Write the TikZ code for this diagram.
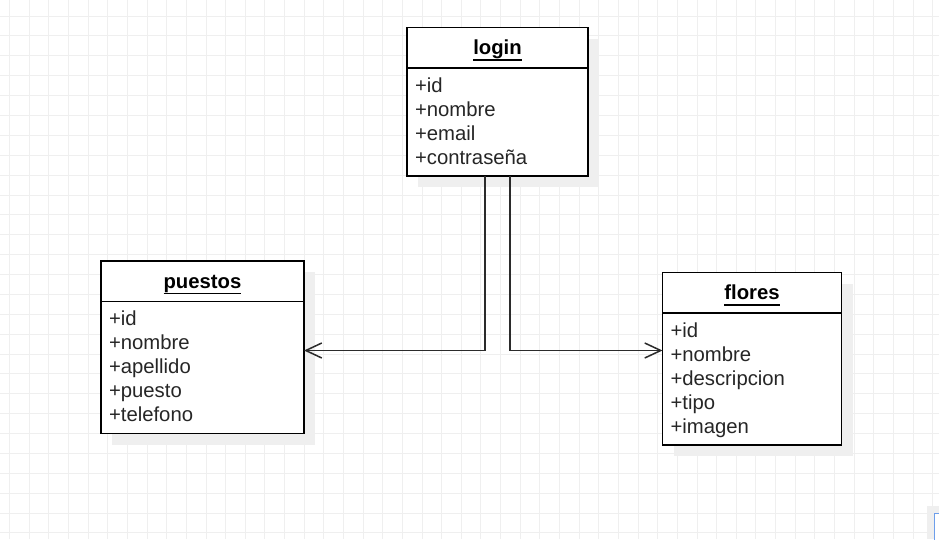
\documentclass[tikz,border=0pt]{standalone}
\usepackage{fontspec}
\setmainfont{Liberation Sans}
\usetikzlibrary{arrows.meta, positioning, shadows}
\definecolor{gridgray}{HTML}{EFEFEF}
\definecolor{shadowgray}{HTML}{EFEFEF}
\definecolor{edgegray}{HTML}{2B2B2B}
\definecolor{textgray}{HTML}{262626}
\definecolor{panelblue}{HTML}{6D9EEB}
\newsavebox{\clsbox}
\newcommand{\clsname}[1]{\sbox{\clsbox}{#1}\rlap{\rule[-6pt]{\wd\clsbox}{1.5pt}}\usebox{\clsbox}}

\begin{document}
\begin{tikzpicture}[
    x=1pt, y=-1pt,
    clshead/.style={draw=black, line width=1.6pt, outer sep=0pt, fill=white, anchor=north west, minimum width=#1, minimum height=40.5pt, inner sep=0pt, text height=14pt, text depth=0pt, font=\fontsize{20.3}{24}\selectfont\bfseries, drop shadow={shadow xshift=11pt, shadow yshift=-11pt, fill=shadowgray, opacity=1}},
    clsbody/.style={draw=black, line width=1.6pt, outer sep=0pt, fill=white, text width=#1, align=left, inner xsep=8pt, inner ysep=6pt, font=\fontsize{20.3}{24}\selectfont, text=textgray, execute at begin node={\rule{0pt}{18pt}}, execute at end node={\rule[-6pt]{0pt}{6pt}}, drop shadow={shadow xshift=11pt, shadow yshift=-11pt, fill=shadowgray, opacity=1}},
    conn/.style={draw=edgegray, line width=1.5pt, -{Straight Barb[length=16pt, width=15pt]}},
    gridline/.style={gridgray, line width=0.8pt}
  ]
    \useasboundingbox (0,0) rectangle (939,539);
    \fill[white] (0,0) rectangle (939,539);

    % Grid
    \foreach \i in {0,...,47}
      \draw[gridline] ({9.5+19.64*\i},0) -- ({9.5+19.64*\i},539);
    \foreach \j in {0,...,26}
      \draw[gridline] (0,{16+19.88*\j}) -- (939,{16+19.88*\j});

    % Classes
    \node[clshead=181pt] (loginhead) at (407,27.5) {\clsname{login}};
    \node[clsbody=165pt, below=0pt of loginhead] (loginbody) {+id\\+nombre\\+email\\+contraseña};

    \node[clshead=203pt] (puestoshead) at (101,261) {\clsname{puestos}};
    \node[clsbody=187pt, below=0pt of puestoshead] (puestosbody) {+id\\+nombre\\+apellido\\+puesto\\+telefono};

    \node[clshead=179pt] (floreshead) at (662.5,272.5) {\clsname{flores}};
    \node[clsbody=163pt, below=0pt of floreshead] (floresbody) {+id\\+nombre\\+descripcion\\+tipo\\+imagen};

    % Arrows
    \draw[conn] ([xshift=-12.5pt]loginbody.south) |- ([yshift=17pt]puestosbody.east);
    \draw[conn] ([xshift=12.5pt]loginbody.south) |- ([yshift=28.5pt]floresbody.west);

    % Outline panel (corner)
    \fill[shadowgray] (926.5,506) rectangle (939,539);
    \draw[panelblue, line width=1pt, fill=white] (934.5,513.5) rectangle (942,542);
  \end{tikzpicture}
\end{document}
